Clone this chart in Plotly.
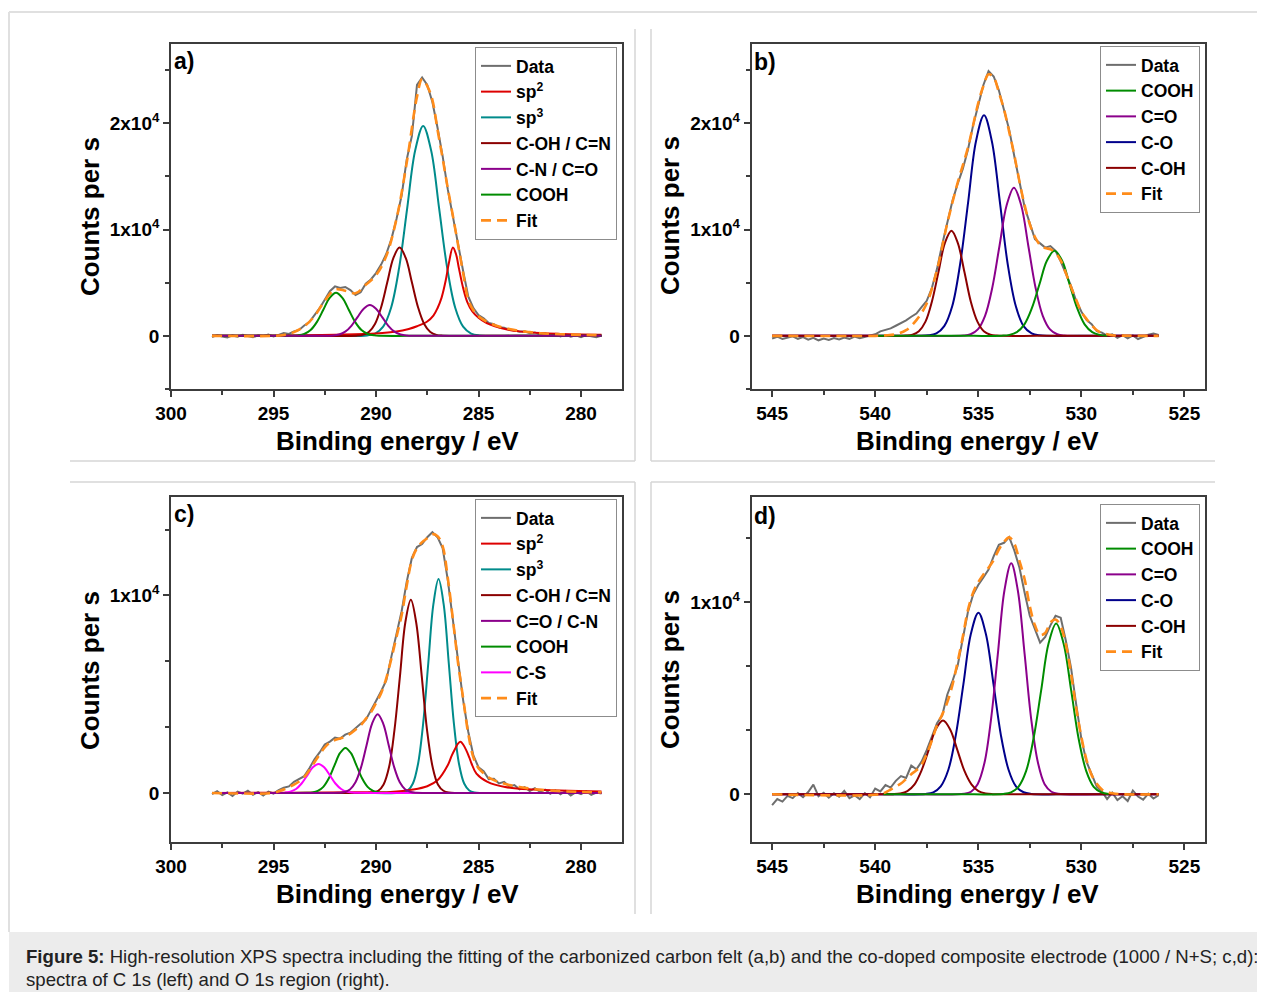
import plotly.graph_objects as go

W, H = 1265, 992          # reference picture size
OFF = 8                   # default page body margin of the html
FW, FH = W - OFF, H - OFF # figure size so that the page fits the window
FONT = "Liberation Sans, Arial, sans-serif"

# ---------------- Panel a (C 1s, carbon felt) ----------------
a_data_x = [298.0, 297.75, 297.5, 297.25, 297.0, 296.75, 296.5, 296.25, 296.0, 295.75, 295.5, 295.25, 295.0, 294.75, 294.5, 294.25, 294.0, 293.75, 293.5, 293.25, 293.0, 292.75, 292.5, 292.25, 292.0, 291.75, 291.5, 291.25, 291.0, 290.75, 290.5, 290.25, 290.0, 289.75, 289.5, 289.25, 289.0, 288.75, 288.5, 288.25, 288.0, 287.75, 287.5, 287.25, 287.0, 286.75, 286.5, 286.25, 286.0, 285.75, 285.5, 285.25, 285.0, 284.75, 284.5, 284.25, 284.0, 283.75, 283.5, 283.25, 283.0, 282.75, 282.5, 282.25, 282.0, 281.75, 281.5, 281.25, 281.0, 280.75, 280.5, 280.25, 280.0, 279.75, 279.5, 279.25, 279.0]
a_data_y = [-120, 80, -60, -150, 40, -90, 110, -40, -130, 60, -20, 120, -50, 90, 260, 180, 420, 560, 980, 1300, 1950, 2600, 3400, 4200, 4650, 4500, 4600, 4300, 3850, 4100, 4900, 5300, 5900, 6700, 7700, 9100, 11000, 13200, 16600, 18800, 23600, 24300, 23600, 22000, 19600, 16900, 13800, 11100, 8700, 6100, 3700, 2600, 1950, 1650, 1200, 1100, 800, 760, 580, 520, 380, 430, 250, 320, 120, 230, 40, 170, -60, 110, -90, 60, -130, 80, -40, -140, 30]
a_fit_x = [298.0, 295.0, 294.5, 294.0, 293.5, 293.0, 292.5, 292.0, 291.5, 291.0, 290.5, 290.0, 289.5, 289.0, 288.5, 288.0, 287.75, 287.5, 287.25, 287.0, 286.75, 286.5, 286.25, 286.0, 285.75, 285.5, 285.25, 285.0, 284.75, 284.5, 284.0, 283.5, 283.0, 282.5, 282.0, 281.0, 280.0, 279.0]
a_fit_y = [0, 0, 80, 350, 900, 1850, 3300, 4350, 4250, 4000, 4800, 5700, 7500, 11000, 16300, 22500, 24150, 23500, 22200, 19400, 16700, 13900, 11300, 8600, 5900, 3400, 2400, 1850, 1500, 1250, 870, 650, 470, 350, 250, 150, 90, 60]
a_sp2_x = [298.0, 294.0, 292.0, 290.0, 289.0, 288.4, 288.0, 287.5, 287.2, 287.0, 286.8, 286.6, 286.45, 286.25, 286.1, 285.95, 285.75, 285.55, 285.3, 285.0, 284.6, 284.2, 283.6, 283.0, 282.0, 281.0, 280.0, 279.0]
a_sp2_y = [0, 30, 100, 220, 400, 650, 900, 1350, 1900, 2600, 3600, 5200, 6800, 8300, 7700, 6300, 4500, 3200, 2300, 1700, 1200, 900, 600, 420, 260, 180, 130, 110]
a_sp3_x = [298.0, 292.0, 290.43, 290.04, 289.65, 289.26, 288.87, 288.48, 288.09, 287.7, 287.31, 286.92, 286.53, 286.14, 285.75, 285.36, 284.97, 283.0, 279.0]
a_sp3_y = [0, 0, 43, 219, 867, 2672, 6413, 11980, 17430, 19750, 17430, 11980, 6413, 2672, 867, 219, 43, 0, 0]
a_coh_x = [298.0, 293.0, 290.95, 290.65, 290.35, 290.05, 289.75, 289.45, 289.15, 288.85, 288.55, 288.25, 287.95, 287.65, 287.35, 287.05, 286.75, 284.5, 279.0]
a_coh_y = [0, 0, 18, 92, 364, 1123, 2695, 5034, 7325, 8300, 7325, 5034, 2695, 1123, 364, 92, 18, 0, 0]
a_cn_x = [298.0, 294.5, 292.4, 292.1, 291.8, 291.5, 291.2, 290.9, 290.6, 290.3, 290.0, 289.7, 289.4, 289.1, 288.8, 288.5, 288.2, 286.0, 279.0]
a_cn_y = [0, 0, 6, 32, 127, 392, 942, 1759, 2559, 2900, 2559, 1759, 942, 392, 127, 32, 6, 0, 0]
a_cooh_x = [298.0, 296.0, 294.12, 293.81, 293.5, 293.19, 292.88, 292.57, 292.26, 291.95, 291.64, 291.33, 291.02, 290.71, 290.4, 290.09, 289.78, 287.5, 279.0]
a_cooh_y = [0, 0, 9, 45, 178, 548, 1315, 2456, 3574, 4050, 3574, 2456, 1315, 548, 178, 45, 9, 0, 0]

# ---------------- Panel b (O 1s, carbon felt) ----------------
b_data_x = [545.0, 544.75, 544.5, 544.25, 544.0, 543.75, 543.5, 543.25, 543.0, 542.75, 542.5, 542.25, 542.0, 541.75, 541.5, 541.25, 541.0, 540.75, 540.5, 540.25, 540.0, 539.75, 539.5, 539.25, 539.0, 538.75, 538.5, 538.25, 538.0, 537.75, 537.5, 537.25, 537.0, 536.75, 536.5, 536.25, 536.0, 535.75, 535.5, 535.25, 535.0, 534.75, 534.5, 534.25, 534.0, 533.75, 533.5, 533.25, 533.0, 532.75, 532.5, 532.25, 532.0, 531.75, 531.5, 531.25, 531.0, 530.75, 530.5, 530.25, 530.0, 529.75, 529.5, 529.25, 529.0, 528.75, 528.5, 528.25, 528.0, 527.75, 527.5, 527.25, 527.0, 526.75, 526.5, 526.25]
b_data_y = [-250, -80, -300, -150, -50, -280, -120, -350, -180, -420, -260, -380, -200, -330, -150, -280, -60, -230, -120, -20, 150, 420, 560, 700, 950, 1200, 1450, 1800, 2100, 2700, 3300, 4500, 6300, 8600, 10800, 12700, 14300, 15700, 17500, 19800, 21700, 23600, 24900, 24400, 23100, 21200, 19400, 16900, 14600, 12100, 10600, 9100, 8700, 8300, 8450, 8000, 7000, 5800, 4700, 3300, 2300, 1500, 1100, 450, 300, 20, 150, -180, 60, -230, 40, -300, -80, 100, 220, 80]
b_fit_x = [545.0, 540.0, 539.5, 539.0, 538.5, 538.0, 537.5, 537.0, 536.5, 536.0, 535.5, 535.0, 534.75, 534.5, 534.25, 534.0, 533.75, 533.5, 533.25, 533.0, 532.75, 532.5, 532.25, 532.0, 531.75, 531.5, 531.25, 531.0, 530.75, 530.5, 530.25, 530.0, 529.75, 529.5, 529.25, 529.0, 528.75, 528.5, 528.0, 526.25]
b_fit_y = [0, 0, 40, 150, 530, 1475, 3050, 6200, 10600, 14400, 17700, 21900, 23500, 24600, 24300, 22900, 21300, 19200, 17000, 14500, 12300, 10500, 9300, 8550, 8250, 8150, 7800, 7100, 5900, 4600, 3400, 2260, 1600, 1000, 520, 260, 150, 60, 20, 0]
b_cooh_x = [540.0, 536.0, 533.86, 533.49, 533.13, 532.76, 532.4, 532.03, 531.67, 531.3, 530.93, 530.57, 530.2, 529.84, 529.47, 529.11, 528.74]
b_cooh_y = [0, 0, 18, 89, 351, 1082, 2598, 4852, 7060, 8000, 7060, 4852, 2598, 1082, 351, 89, 18]
b_co2_x = [545.0, 538.0, 535.72, 535.37, 535.02, 534.67, 534.32, 533.97, 533.62, 533.27, 532.92, 532.57, 532.22, 531.87, 531.52, 531.17, 530.82, 528.5, 526.25]
b_co2_y = [0, 0, 31, 155, 612, 1886, 4526, 8455, 12302, 13940, 12302, 8455, 4526, 1886, 612, 155, 31, 0, 0]
b_co_x = [545.0, 539.5, 537.42, 537.03, 536.65, 536.26, 535.88, 535.49, 535.11, 534.72, 534.34, 533.95, 533.57, 533.18, 532.8, 532.41, 532.03, 530.0, 526.25]
b_co_y = [0, 0, 46, 230, 911, 2807, 6737, 12585, 18312, 20750, 18312, 12585, 6737, 2807, 911, 230, 46, 0, 0]
b_coh_x = [545.0, 540.5, 538.51, 538.19, 537.88, 537.56, 537.25, 536.93, 536.62, 536.3, 535.99, 535.67, 535.36, 535.04, 534.73, 534.41, 534.1, 532.0, 526.25]
b_coh_y = [0, 0, 22, 110, 434, 1338, 3211, 5998, 8728, 9890, 8728, 5998, 3211, 1338, 434, 110, 22, 0, 0]

# ---------------- Panel c (C 1s, co-doped) ----------------
c_data_x = list(a_data_x)
c_data_y = [-60, 90, -110, 30, -150, 70, -40, 110, -90, 40, -130, 60, -30, 140, 260, 330, 560, 700, 850, 1250, 1700, 2050, 2450, 2600, 2800, 2750, 2950, 3050, 3300, 3500, 3700, 4150, 4650, 5150, 5700, 6900, 8000, 9200, 10700, 11900, 12450, 12600, 12950, 13200, 12950, 12400, 10800, 8700, 6800, 4700, 3100, 1900, 1300, 1100, 700, 720, 480, 560, 330, 400, 180, 290, 100, 240, 50, 170, -40, 120, -70, 100, -130, 40, -60, 90, -100, 20, -30]
c_fit_x = [298.0, 295.0, 294.75, 294.5, 294.25, 294.0, 293.75, 293.5, 293.25, 293.0, 292.75, 292.5, 292.25, 292.0, 291.75, 291.5, 291.25, 291.0, 290.75, 290.5, 290.25, 290.0, 289.75, 289.5, 289.25, 289.0, 288.75, 288.5, 288.25, 288.0, 287.75, 287.5, 287.25, 287.0, 286.75, 286.5, 286.25, 286.0, 285.75, 285.5, 285.25, 285.0, 284.75, 284.5, 284.25, 284.0, 283.5, 283.0, 282.5, 282.0, 281.0, 280.0, 279.0]
c_fit_y = [0, 0, 80, 170, 300, 420, 580, 800, 1150, 1550, 1950, 2300, 2550, 2680, 2760, 2850, 3000, 3200, 3420, 3750, 4080, 4550, 5050, 5800, 6800, 7900, 9000, 10500, 11800, 12400, 12700, 12900, 13100, 13000, 12500, 10900, 8800, 6600, 4800, 3000, 1800, 1250, 1000, 780, 650, 550, 400, 300, 220, 160, 90, 50, 30]
c_sp2_x = [298.0, 294.0, 291.0, 289.3, 288.2, 287.5, 287.0, 286.5, 286.3, 286.13, 286.0, 285.87, 285.75, 285.6, 285.45, 285.34, 285.1, 284.56, 283.7, 282.3, 279.0]
c_sp2_y = [0, 10, 30, 50, 170, 340, 640, 1400, 1900, 2250, 2500, 2590, 2450, 2170, 1800, 1490, 980, 560, 300, 170, 70]
c_sp3_x = [298.0, 291.0, 288.7, 288.45, 288.2, 287.95, 287.7, 287.45, 287.2, 286.95, 286.7, 286.45, 286.2, 285.95, 285.7, 285.45, 285.2, 283.5, 279.0]
c_sp3_y = [0, 0, 24, 120, 475, 1465, 3516, 6568, 9557, 10830, 9557, 6568, 3516, 1465, 475, 120, 24, 0, 0]
c_coh_x = [298.0, 292.0, 290.16, 289.89, 289.63, 289.36, 289.1, 288.83, 288.57, 288.3, 288.04, 287.77, 287.51, 287.24, 286.98, 286.71, 286.45, 284.5, 279.0]
c_coh_y = [0, 0, 22, 109, 429, 1323, 3176, 5932, 8631, 9780, 8631, 5932, 3176, 1323, 429, 109, 22, 0, 0]
c_co_x = [298.0, 293.5, 291.81, 291.54, 291.27, 291.0, 290.73, 290.46, 290.19, 289.92, 289.65, 289.38, 289.11, 288.84, 288.57, 288.3, 288.03, 286.0, 279.0]
c_co_y = [0, 0, 9, 44, 175, 538, 1292, 2414, 3512, 3980, 3512, 2414, 1292, 538, 175, 44, 9, 0, 0]
c_cooh_x = [298.0, 295.0, 293.38, 293.11, 292.84, 292.57, 292.3, 292.03, 291.76, 291.49, 291.22, 290.95, 290.68, 290.41, 290.14, 289.87, 289.6, 287.5, 279.0]
c_cooh_y = [0, 0, 5, 25, 100, 308, 740, 1383, 2012, 2280, 2012, 1383, 740, 308, 100, 25, 5, 0, 0]
c_cs_x = [294.45, 294.18, 293.9, 293.63, 293.35, 293.08, 292.8, 292.53, 292.25, 291.98, 291.7, 291.43, 291.15, 290.88, 289.0, 279.0]
c_cs_y = [16, 65, 199, 477, 892, 1297, 1470, 1297, 892, 477, 199, 65, 16, 3, 0, 0]

# ---------------- Panel d (O 1s, co-doped) ----------------
d_data_x = list(b_data_x)
d_data_y = [-560, -250, -380, -80, -200, 60, -150, 120, 500, -100, 80, -180, 50, -120, 180, -200, -50, -250, 60, -150, 300, 150, 480, 350, 700, 950, 850, 1500, 1300, 1700, 2300, 3000, 3700, 4100, 5200, 5900, 6700, 8100, 9500, 10400, 10900, 11300, 11700, 12400, 13000, 13100, 13400, 12700, 11800, 10500, 9300, 8600, 7900, 8200, 8800, 9300, 9200, 8000, 6600, 4700, 2900, 1700, 1050, 400, 150, -250, 80, -300, -100, -350, 200, -120, -280, 30, -220, -50]
d_fit_x = [545.0, 539.75, 539.5, 539.25, 539.0, 538.75, 538.5, 538.25, 538.0, 537.75, 537.5, 537.25, 537.0, 536.75, 536.5, 536.25, 536.0, 535.75, 535.5, 535.25, 535.0, 534.75, 534.5, 534.25, 534.0, 533.75, 533.5, 533.25, 533.0, 532.75, 532.5, 532.25, 532.0, 531.75, 531.5, 531.25, 531.0, 530.75, 530.5, 530.25, 530.0, 529.75, 529.5, 529.25, 529.0, 528.75, 528.5, 528.0, 526.25]
d_fit_y = [0, 0, 100, 250, 400, 560, 800, 1050, 1250, 1550, 2100, 2800, 3600, 4150, 4800, 5700, 6900, 8200, 9600, 10500, 11050, 11450, 11800, 12200, 12750, 13150, 13380, 13050, 12150, 11200, 9800, 8800, 8300, 8400, 8950, 9100, 8750, 7800, 6300, 4500, 3000, 1800, 1000, 550, 250, 120, 50, 0, 0]
d_cooh_x = [539.6, 536.0, 533.78, 533.41, 533.05, 532.68, 532.32, 531.95, 531.59, 531.22, 530.86, 530.49, 530.13, 529.76, 529.4, 529.03, 528.67]
d_cooh_y = [0, 0, 20, 99, 391, 1204, 2890, 5398, 7854, 8900, 7854, 5398, 2890, 1204, 391, 99, 20]
d_co2_x = [545.0, 538.0, 535.68, 535.35, 535.03, 534.7, 534.38, 534.05, 533.73, 533.4, 533.08, 532.75, 532.43, 532.1, 531.78, 531.45, 531.13, 529.0, 526.25]
d_co2_y = [0, 0, 26, 134, 528, 1628, 3906, 7296, 10616, 12030, 10616, 7296, 3906, 1628, 528, 134, 26, 0, 0]
d_co_x = [545.0, 539.5, 537.55, 537.18, 536.82, 536.45, 536.09, 535.72, 535.36, 534.99, 534.63, 534.26, 533.9, 533.53, 533.17, 532.8, 532.44, 530.5, 526.25]
d_co_y = [0, 0, 21, 105, 415, 1280, 3072, 5737, 8348, 9460, 8348, 5737, 3072, 1280, 415, 105, 21, 0, 0]
d_coh_x = [545.0, 541.0, 539.13, 538.78, 538.44, 538.09, 537.75, 537.4, 537.06, 536.71, 536.37, 536.02, 535.68, 535.33, 534.99, 534.64, 534.3, 532.0, 526.25]
d_coh_y = [0, 0, 8, 43, 169, 520, 1247, 2329, 3389, 3840, 3389, 2329, 1247, 520, 169, 43, 8, 0, 0]

# tick labels
x_ticks_c = [300, 295, 290, 285, 280]
x_ticks_o = [545, 540, 535, 530, 525]
y_ticks_ab = [0, 10000, 20000]
y_text_ab = ["0", "1x10<sup>4</sup>", "2x10<sup>4</sup>"]
y_ticks_cd = [0, 10000]
y_text_cd = ["0", "1x10<sup>4</sup>"]

COL = dict(data="#6e6e6e", sp2="#dd0000", sp3="#008b8b", coh="#8b0000",
           purple="#8b008b", cooh="#008c00", cs="#ff00ff", co="#00008b", fit="#ff8c1a")

fig = go.Figure()

def comp(x, y, name, color, ax, leg, rank, shape="spline"):
    fig.add_trace(go.Scatter(
        x=x, y=y, name=name, mode="lines",
        line=dict(color=color, width=2, shape=shape),
        xaxis="x" + ax, yaxis="y" + ax, legend=leg, legendrank=rank,
        hoverinfo="skip"))

def data_tr(x, y, ax, leg):
    fig.add_trace(go.Scatter(x=x, y=y, name="Data", mode="lines",
                             line=dict(color=COL["data"], width=2),
                             xaxis="x" + ax, yaxis="y" + ax, legend=leg, legendrank=1))

def fit_tr(x, y, ax, leg, rank):
    fig.add_trace(go.Scatter(x=x, y=y, name="Fit", mode="lines",
                             line=dict(color=COL["fit"], width=2.6, dash="10px,6px", shape="spline"),
                             xaxis="x" + ax, yaxis="y" + ax, legend=leg, legendrank=rank))

# panel a
data_tr(a_data_x, a_data_y, "", "legend")
comp(a_sp3_x, a_sp3_y, "sp<sup>3</sup>", COL["sp3"], "", "legend", 3)
comp(a_sp2_x, a_sp2_y, "sp<sup>2</sup>", COL["sp2"], "", "legend", 2)
comp(a_coh_x, a_coh_y, "C-OH / C=N", COL["coh"], "", "legend", 4)
comp(a_cooh_x, a_cooh_y, "COOH", COL["cooh"], "", "legend", 6)
comp(a_cn_x, a_cn_y, "C-N / C=O", COL["purple"], "", "legend", 5)
fit_tr(a_fit_x, a_fit_y, "", "legend", 7)

# panel b
data_tr(b_data_x, b_data_y, "2", "legend2")
comp(b_co_x, b_co_y, "C-O", COL["co"], "2", "legend2", 4)
comp(b_co2_x, b_co2_y, "C=O", COL["purple"], "2", "legend2", 3)
comp(b_coh_x, b_coh_y, "C-OH", COL["coh"], "2", "legend2", 5)
comp(b_cooh_x, b_cooh_y, "COOH", COL["cooh"], "2", "legend2", 2)
fit_tr(b_fit_x, b_fit_y, "2", "legend2", 6)

# panel c
data_tr(c_data_x, c_data_y, "3", "legend3")
comp(c_sp3_x, c_sp3_y, "sp<sup>3</sup>", COL["sp3"], "3", "legend3", 3)
comp(c_sp2_x, c_sp2_y, "sp<sup>2</sup>", COL["sp2"], "3", "legend3", 2)
comp(c_coh_x, c_coh_y, "C-OH / C=N", COL["coh"], "3", "legend3", 4)
comp(c_cooh_x, c_cooh_y, "COOH", COL["cooh"], "3", "legend3", 6)
comp(c_cs_x, c_cs_y, "C-S", COL["cs"], "3", "legend3", 7)
comp(c_co_x, c_co_y, "C=O / C-N", COL["purple"], "3", "legend3", 5)
fit_tr(c_fit_x, c_fit_y, "3", "legend3", 8)

# panel d
data_tr(d_data_x, d_data_y, "4", "legend4")
comp(d_co_x, d_co_y, "C-O", COL["co"], "4", "legend4", 4)
comp(d_co2_x, d_co2_y, "C=O", COL["purple"], "4", "legend4", 3)
comp(d_coh_x, d_coh_y, "C-OH", COL["coh"], "4", "legend4", 5)
comp(d_cooh_x, d_cooh_y, "COOH", COL["cooh"], "4", "legend4", 2)
fit_tr(d_fit_x, d_fit_y, "4", "legend4", 6)

# page pixel -> paper coordinate (page has an 8 px body margin)
def px(v): return (v - OFF) / FW
def py(v): return 1 - (v - OFF) / FH

AXC = "#3c3c3c"
tickfont = dict(family=FONT, size=19, color="black", weight="bold")

def xaxis(dom, rng, ticks, anchor):
    return dict(domain=dom, range=rng, anchor=anchor, tickmode="array", tickvals=ticks,
                showline=True, linecolor=AXC, linewidth=1.6, mirror=True,
                ticks="outside", ticklen=6, tickwidth=1.5, tickcolor=AXC,
                minor=dict(tickmode="linear", tick0=0, dtick=2.5, ticks="outside", ticklen=4,
                           tickwidth=1.5, tickcolor=AXC),
                showgrid=False, zeroline=False, tickfont=tickfont, automargin=False)

def yaxis(dom, rng, ticks, text, mdt, anchor):
    return dict(domain=dom, range=rng, anchor=anchor, tickmode="array", tickvals=ticks, ticktext=text,
                showline=True, linecolor=AXC, linewidth=1.6, mirror=True,
                ticks="outside", ticklen=6, tickwidth=1.5, tickcolor=AXC,
                minor=dict(tickmode="linear", tick0=0, dtick=mdt, ticks="outside", ticklen=4,
                           tickwidth=1.5, tickcolor=AXC),
                showgrid=False, zeroline=False, tickfont=tickfont, automargin=False)

xl = [px(171), px(622)]
xr = [px(751.5), px(1205)]
yt = [py(389), py(43.5)]
yb = [py(842.3), py(496.7)]

legend_style = dict(bgcolor="white", bordercolor="#8c8c8c", borderwidth=1,
                    font=dict(family=FONT, size=17.5, color="black", weight="bold"),
                    xanchor="left", yanchor="top", itemclick=False, itemdoubleclick=False)

fig.update_layout(
    width=FW, height=FH, margin=dict(l=0, r=0, t=0, b=0),
    paper_bgcolor="white", plot_bgcolor="white",
    font=dict(family=FONT, color="black"),
    xaxis=xaxis(xl, [300, 278], x_ticks_c, "y"),
    yaxis=yaxis(yt, [-5000, 27500], y_ticks_ab, y_text_ab, 5000, "x"),
    xaxis2=xaxis(xr, [546, 524], x_ticks_o, "y2"),
    yaxis2=yaxis(yt, [-5000, 27500], y_ticks_ab, y_text_ab, 5000, "x2"),
    xaxis3=xaxis(xl, [300, 278], x_ticks_c, "y3"),
    yaxis3=yaxis(yb, [-2500, 15000], y_ticks_cd, y_text_cd, 10000 / 3, "x3"),
    xaxis4=xaxis(xr, [546, 524], x_ticks_o, "y4"),
    yaxis4=yaxis(yb, [-2500, 15500], y_ticks_cd, y_text_cd, 10000 / 3, "x4"),
    legend=dict(x=px(475), y=py(47), **legend_style),
    legend2=dict(x=px(1100), y=py(46), **legend_style),
    legend3=dict(x=px(475), y=py(499), **legend_style),
    legend4=dict(x=px(1100), y=py(504), **legend_style),
)

ann = []
title_font = dict(family=FONT, size=26, color="black", weight="bold")
for cx, cy in [(397, 441), (977, 441), (397, 894), (977, 894)]:
    ann.append(dict(text="Binding energy / eV", x=px(cx), y=py(cy), xref="paper", yref="paper",
                    xanchor="center", yanchor="middle", showarrow=False, font=title_font))
for cx, cy in [(90, 216), (670, 216), (90, 670), (670, 670)]:
    ann.append(dict(text="Counts per s", x=px(cx), y=py(cy), xref="paper", yref="paper",
                    xanchor="center", yanchor="middle", showarrow=False, textangle=-90, font=title_font))
for lab, cx, cy in [("a)", 172, 61), ("b)", 752, 62), ("c)", 172, 514), ("d)", 752, 516)]:
    ann.append(dict(text=lab, x=px(cx), y=py(cy), xref="paper", yref="paper",
                    xanchor="left", yanchor="middle", showarrow=False,
                    font=dict(family=FONT, size=23, color="black", weight="bold")))
cap_font = dict(family=FONT, size=18.6, color="#222222")
ann.append(dict(text="<b>Figure 5:</b> High-resolution XPS spectra including the fitting of the carbonized carbon felt (a,b) and the co-doped composite electrode (1000 / N+S; c,d):",
                x=px(24), y=py(956), xref="paper", yref="paper", xanchor="left", yanchor="middle",
                showarrow=False, font=cap_font))
ann.append(dict(text="spectra of C 1s (left) and O 1s region (right).",
                x=px(24), y=py(979), xref="paper", yref="paper", xanchor="left", yanchor="middle",
                showarrow=False, font=cap_font))
fig.update_layout(annotations=ann)

shapes = []
shapes.append(dict(type="rect", xref="paper", yref="paper", x0=px(9), x1=1, y0=0, y1=py(932),
                   fillcolor="#ececec", line=dict(width=0), layer="below"))
border = "#e0e0e0"
for (x0, y0, x1, y1) in [(9, 12, 1265, 12), (9, 12, 9, 932)]:
    shapes.append(dict(type="line", xref="paper", yref="paper", x0=px(x0), y0=py(y0), x1=px(x1), y1=py(y1),
                       line=dict(color=border, width=2)))
sep = "#d6d6d6"
for (x0, y0, x1, y1) in [(635, 29, 635, 461), (651, 29, 651, 461), (70, 461, 635, 461), (651, 461, 1215, 461),
                         (70, 482, 635, 482), (651, 482, 1215, 482), (635, 482, 635, 914), (651, 482, 651, 914)]:
    shapes.append(dict(type="line", xref="paper", yref="paper", x0=px(x0), y0=py(y0), x1=px(x1), y1=py(y1),
                       line=dict(color=sep, width=1.5)))
fig.update_layout(shapes=shapes)

fig.write_html("out.html", config=dict(displayModeBar=False))
